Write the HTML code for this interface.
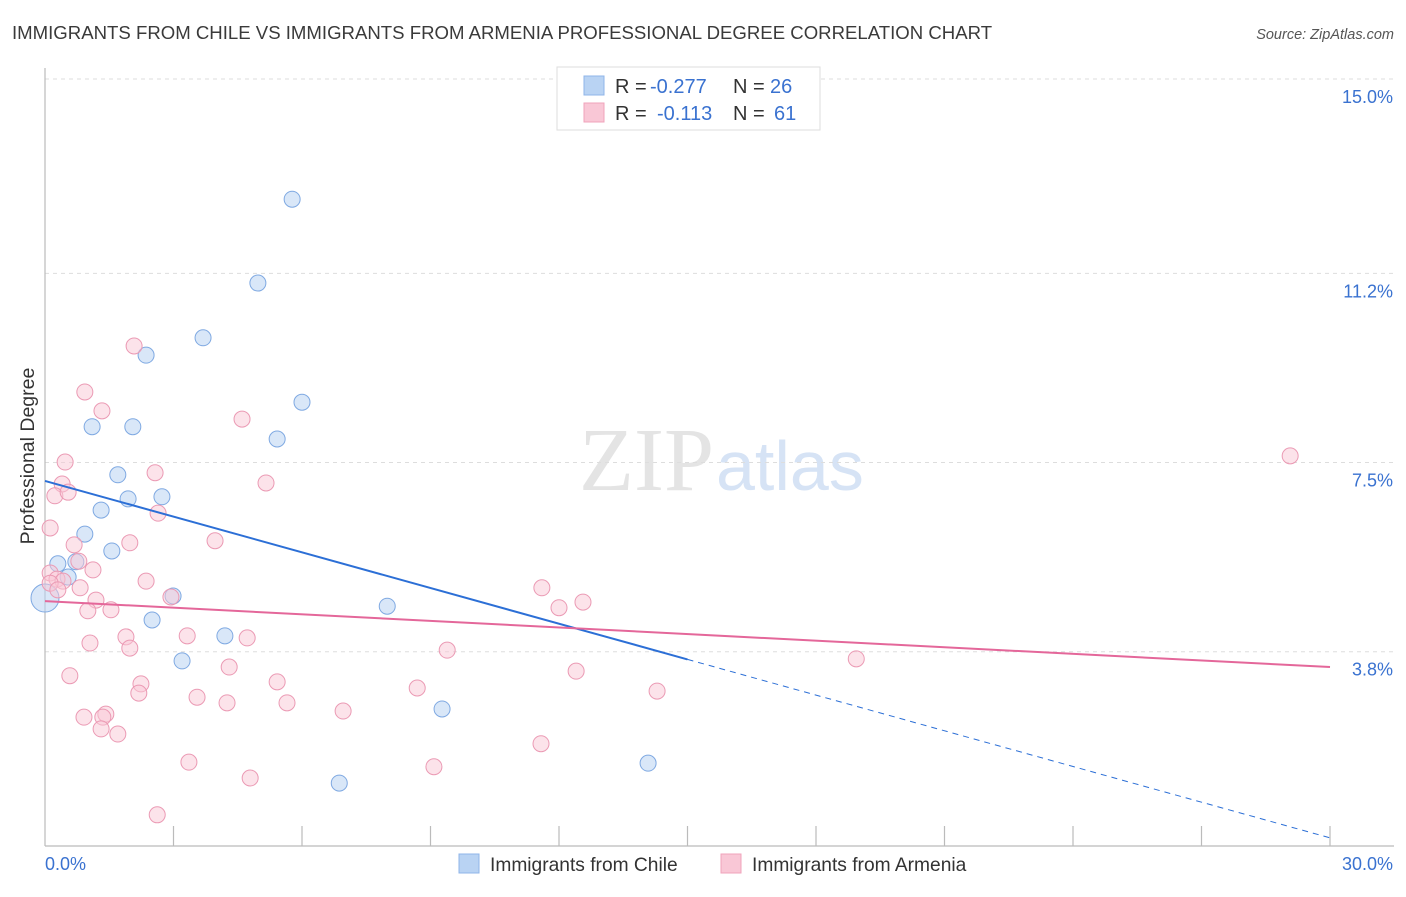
<!DOCTYPE html>
<html><head><meta charset="utf-8"><style>
body{margin:0;background:#fff;font-family:"Liberation Sans",sans-serif;}
</style></head><body>
<svg id="chart" width="1406" height="892" xmlns="http://www.w3.org/2000/svg">
<text x="12" y="39" font-size="18.6" fill="#3a3a3a">IMMIGRANTS FROM CHILE VS IMMIGRANTS FROM ARMENIA PROFESSIONAL DEGREE CORRELATION CHART</text>
<text x="1394" y="39" font-size="14.5" fill="#555" font-style="italic" text-anchor="end">Source: ZipAtlas.com</text>
<text x="714" y="490" font-size="90" fill="#e4e4e4" text-anchor="end" font-family="Liberation Serif,serif">ZIP</text>
<text x="716" y="490" font-size="70" fill="#d6e3f5">atlas</text>
<g id="grid"></g>
<g id="axes"></g>
<g id="marks"></g>
<text transform="translate(34,456) rotate(-90)" font-size="19.5" fill="#333" text-anchor="middle">Professional Degree</text>
<g>
<rect x="557" y="67" width="263" height="63" fill="#fff" stroke="#ddd"/>
<rect x="584" y="76" width="20" height="19" fill="#b9d3f3" stroke="#8fb5e8"/>
<rect x="584" y="103" width="20" height="19" fill="#f9c7d6" stroke="#f0a3bb"/>
<text x="615" y="93" font-size="20" fill="#333">R = <tspan x="650" fill="#3a72d0">-0.277</tspan><tspan x="733">N = </tspan><tspan x="770" fill="#3a72d0">26</tspan></text>
<text x="615" y="120" font-size="20" fill="#333">R = <tspan x="657" fill="#3a72d0">-0.113</tspan><tspan x="733">N = </tspan><tspan x="774" fill="#3a72d0">61</tspan></text>
</g>
<g>
<rect x="459" y="854" width="20" height="19" fill="#b9d3f3" stroke="#8fb5e8"/>
<text x="490" y="871" font-size="19.2" fill="#333">Immigrants from Chile</text>
<rect x="721" y="854" width="20" height="19" fill="#f9c7d6" stroke="#f0a3bb"/>
<text x="752" y="871" font-size="19.2" fill="#333">Immigrants from Armenia</text>
</g>
</svg>
<script>
const yTicks=[3.8,7.5,11.2,15.0];
const yTickLabels=["3.8%","7.5%","11.2%","15.0%"];
const xTickLabels=["0.0%","30.0%"];
const chileX=[5.77,4.97,3.69,2.36,6.00,1.10,2.05,5.42,1.70,1.94,2.73,1.31,0.93,1.56,0.30,0.72,0.54,0,2.99,2.50,4.20,3.20,7.99,9.27,14.08,6.87];
const chileY=[12.65,11.01,9.94,9.60,8.68,8.20,8.20,7.96,7.26,6.79,6.83,6.57,6.10,5.77,5.52,5.56,5.26,4.85,4.89,4.42,4.11,3.62,4.69,2.68,1.62,1.23];
const armX=[29.07,18.94,2.08,0.93,1.33,4.60,0.47,2.57,0.40,5.16,0.23,0.54,2.64,0.12,3.97,1.98,0.68,0.79,0.12,1.12,0.28,2.36,11.60,12.56,12.00,0.82,1.19,1.54,1.00,2.94,1.89,3.32,4.72,1.98,1.05,9.39,4.30,0.58,12.40,5.42,2.24,8.69,2.19,14.29,3.55,4.25,5.65,6.96,0.91,1.42,1.35,1.31,1.70,11.58,3.36,9.08,4.79,2.62,0.42,0.12,0.30];
const armY=[7.63,3.66,9.78,8.88,8.51,8.35,7.51,7.30,7.08,7.10,6.85,6.92,6.51,6.22,5.97,5.93,5.89,5.57,5.34,5.40,5.22,5.18,5.05,4.77,4.66,5.05,4.81,4.62,4.60,4.87,4.09,4.11,4.07,3.87,3.97,3.83,3.50,3.33,3.42,3.21,3.17,3.09,2.99,3.03,2.91,2.80,2.80,2.64,2.52,2.58,2.52,2.29,2.19,2.00,1.64,1.55,1.33,0.61,5.18,5.14,5.01];
const chileTrend=[7.14,-0.2327];
const armTrend=[4.79,-0.043];
const NS="http://www.w3.org/2000/svg";
const X0=45,X1=1330,Y0=846;
const sx=v=>X0+v/30*(X1-X0);
const sy=v=>Y0-v*51.13;
function mk(tag,attrs,parent){const e=document.createElementNS(NS,tag);for(const k in attrs)e.setAttribute(k,attrs[k]);document.getElementById(parent).appendChild(e);return e;}
yTicks.forEach((t,i)=>{
 const g=mk('line',{x1:X0,x2:1394,y1:sy(t),y2:sy(t),stroke:'#ddd','stroke-dasharray':'4,4'},'grid');
 
 
 const l=mk('text',{x:1393,y:sy(t)+24,'font-size':18,fill:'#3a72d0','text-anchor':'end'},'axes');
 l.textContent=yTickLabels[i];
 
 
});
const ya=mk('line',{x1:X0,x2:X0,y1:68,y2:Y0,stroke:'#bbb','stroke-width':1.2},'axes');


const xa=mk('line',{x1:X0,x2:1394,y1:Y0,y2:Y0,stroke:'#bbb','stroke-width':1.2},'axes');


for(let i=1;i<=10;i++){
 const t=mk('line',{x1:sx(i*3),x2:sx(i*3),y1:826,y2:Y0,stroke:'#bbb','stroke-width':1.2},'axes');
 
 
}
[[X0,'start',0],[1393,'end',1]].forEach(([x,a,i])=>{
 const l=mk('text',{x:x,y:870,'font-size':18,fill:'#3a72d0','text-anchor':a},'axes');
 l.textContent=xTickLabels[i];
 
 
});
chileX.forEach((v,i)=>{
 const c=mk('circle',{cx:sx(v),cy:sy(chileY[i]),r:(v===0?14:8),fill:'rgba(185,211,243,0.55)',stroke:'#7fa9e2','stroke-width':1},'marks');
 
 
});
armX.forEach((v,i)=>{
 const c=mk('circle',{cx:sx(v),cy:sy(armY[i]),r:8,fill:'rgba(249,199,214,0.5)',stroke:'#eb9ab4','stroke-width':1},'marks');
 
 
});
const f=(tr,x)=>tr[0]+tr[1]*x;
const t1=mk('line',{x1:sx(0),y1:sy(f(chileTrend,0)),x2:sx(15),y2:sy(f(chileTrend,15)),stroke:'#2c6fd6','stroke-width':2},'marks');


const t2=mk('line',{x1:sx(15),y1:sy(f(chileTrend,15)),x2:sx(30),y2:sy(f(chileTrend,30)),stroke:'#2c6fd6','stroke-width':1,'stroke-dasharray':'6,5'},'marks');


const t3=mk('line',{x1:sx(0),y1:sy(f(armTrend,0)),x2:sx(30),y2:sy(f(armTrend,30)),stroke:'#e4679a','stroke-width':2},'marks');


</script>
</body></html>
